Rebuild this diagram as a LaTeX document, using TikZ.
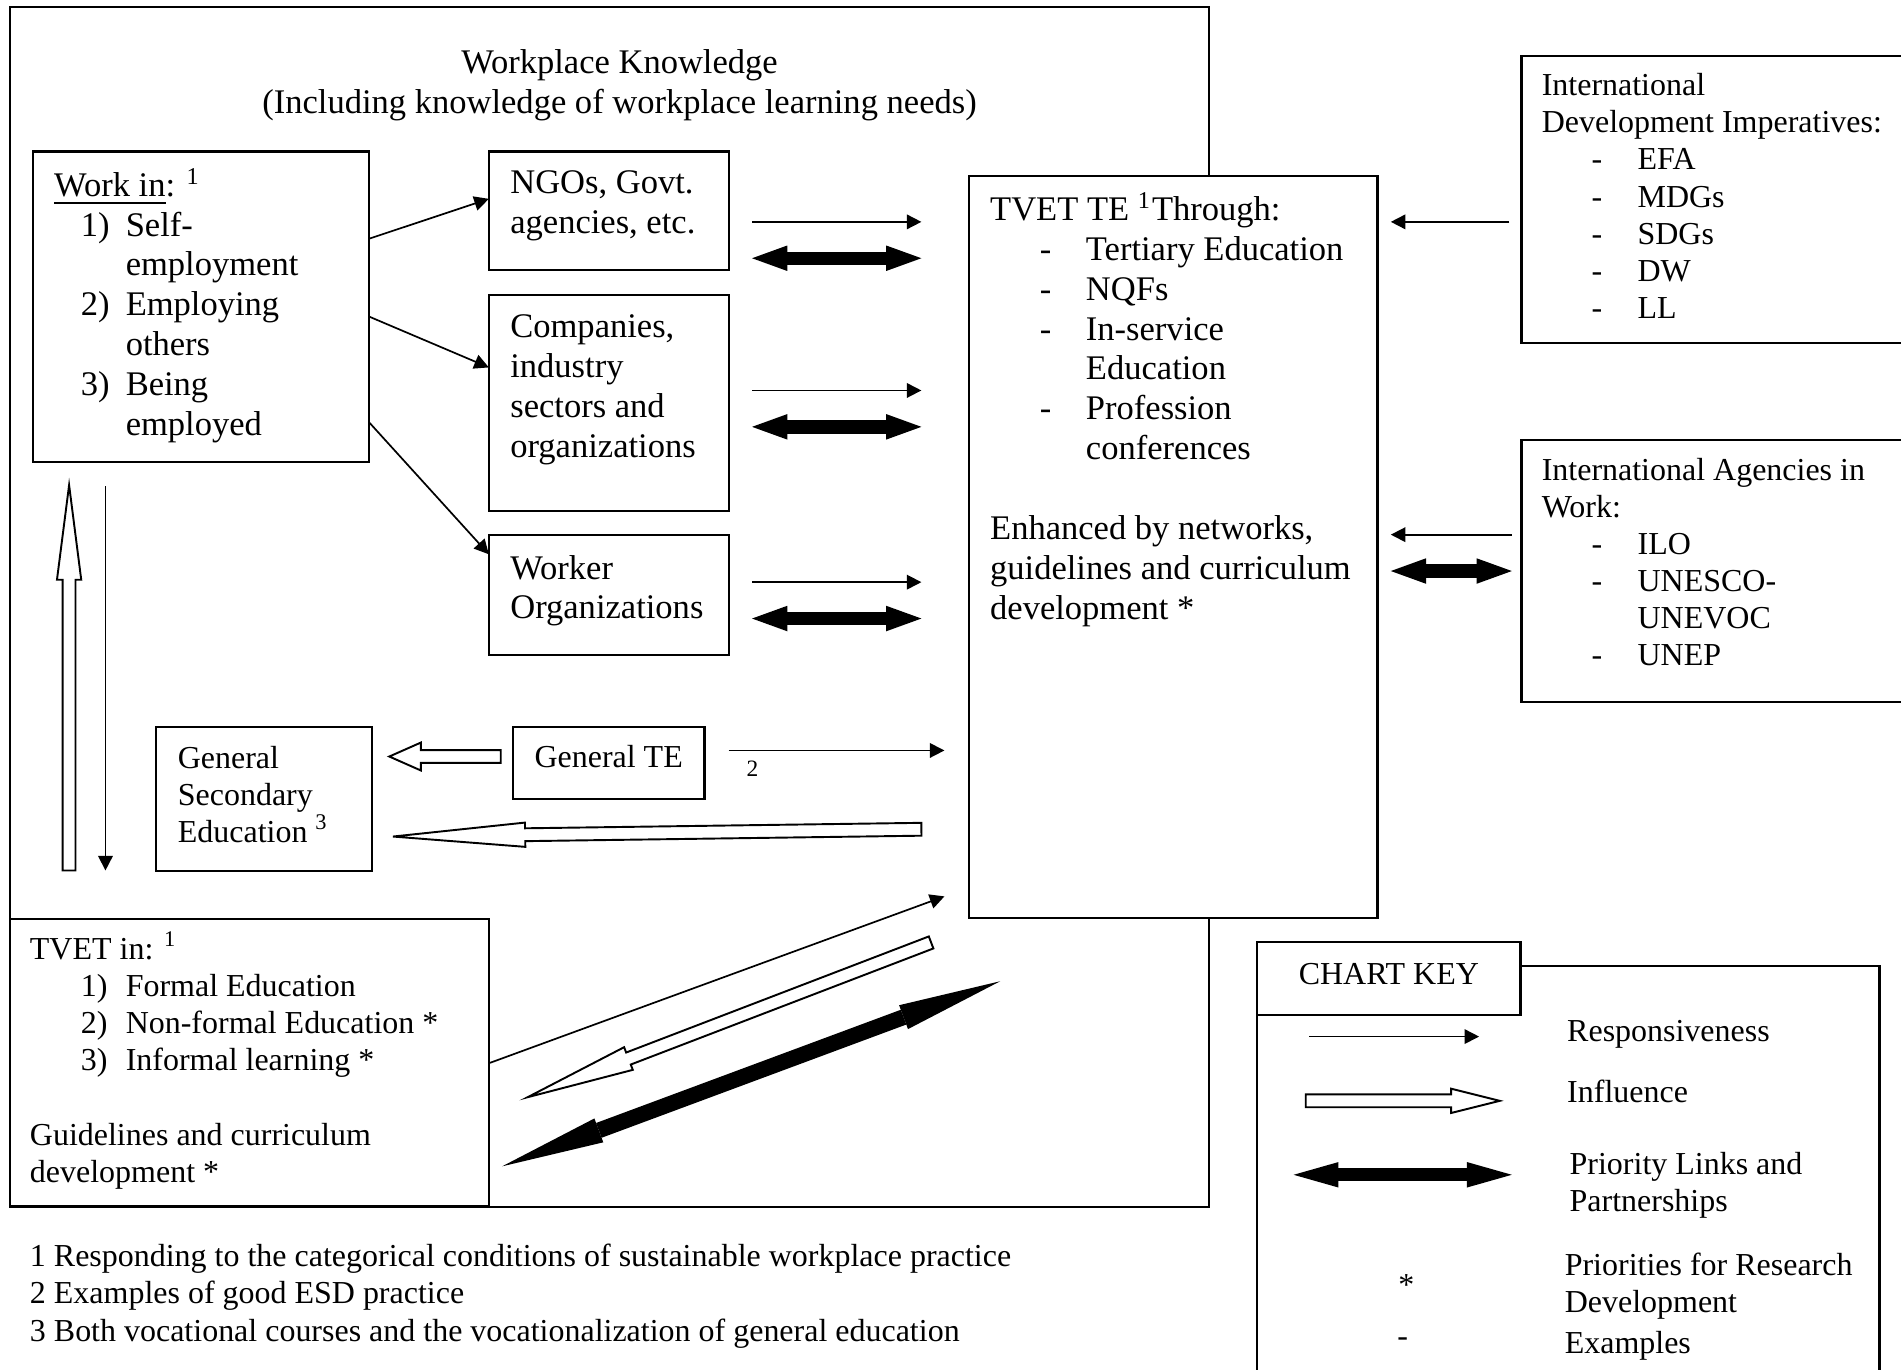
\documentclass[tikz,border=0pt]{standalone}
\usepackage{fontspec}
\setmainfont{Liberation Serif}
\usetikzlibrary{arrows.meta, positioning, calc}

\newcommand{\numitem}[3][0.22cm]{\hspace*{#1}\makebox[0.37cm][l]{#2}#3}
\newcommand{\dashitem}[1]{\hspace*{0.41cm}\makebox[0.38cm][l]{-}#1}
\newcommand{\dashcont}[1]{\hspace*{0.79cm}#1}
% open block arrow: [head half width] tail, tip, head length
\newcommand{\hollowarrow}[4][0.1cm]{%
  \coordinate (neck) at ($(#3)!#4!(#2)$);
  \draw[hollow] ($(#2)!0.053cm!90:(#3)$) -- ($(neck)!0.053cm!-90:(#2)$)
    -- ($(neck)!#1!-90:(#2)$) -- (#3) -- ($(neck)!#1!90:(#2)$)
    -- ($(neck)!0.053cm!90:(#2)$) -- ($(#2)!0.053cm!-90:(#3)$) -- cycle;}

\begin{document}
\begin{tikzpicture}[
    x=0.01cm, y=-0.01cm,
    box/.style={draw, line width=0.5pt, fill=white, inner sep=0pt, outer sep=0pt, anchor=north west},
    bigtext/.style={font=\fontsize{8.1}{9.35}\selectfont, align=left, inner sep=0pt, anchor=north west},
    smalltext/.style={font=\fontsize{7.5}{8.7}\selectfont, align=left, inner sep=0pt, anchor=north west},
    fnmark/.style={font=\fontsize{5.5}{6}\selectfont, inner sep=0pt},
    resp/.style={line width=0.4pt, -{Triangle[length=0.12cm,width=0.12cm]}},
    prio/.style={line width=0.11cm, {Triangle[length=#1,width=0.21cm,line width=0pt]}-{Triangle[length=#1,width=0.21cm,line width=0pt]}},
    prio/.default=0.29cm,
    hollow/.style={draw, line width=0.45pt, fill=white, line join=miter}
]
    \useasboundingbox (0,0) rectangle (1568,1130);
    \clip (0,0) rectangle (1568,1130);

    % workplace frame
    \node[box, minimum width=9.89cm, minimum height=9.89cm] (outer) at (8,6) {};
    \node[bigtext, anchor=north, align=center] (title) at (511,40) {Workplace Knowledge\\(Including knowledge of workplace learning needs)};

    \node[box, minimum width=2.77cm, minimum height=2.56cm] (work) at (27,125) {};
    \node[bigtext, below right=0.13cm and 0.17cm of work.north west] (worktxt) {\underline{Work in}: \textsuperscript{1}\\
        \numitem{1)}{Self-}\\ \hspace*{0.59cm}employment\\
        \numitem{2)}{Employing}\\ \hspace*{0.59cm}others\\
        \numitem{3)}{Being}\\ \hspace*{0.59cm}employed};

    \node[box, minimum width=1.98cm, minimum height=0.98cm, right=0.99cm of work.north east, anchor=north west] (ngo) {};
    \node[bigtext, below right=0.15cm and 0.17cm of ngo.north west] (ngotxt) {NGOs, Govt.\\agencies, etc.};
    \node[box, minimum width=1.98cm, minimum height=1.78cm, below=0.2cm of ngo] (comp) {};
    \node[bigtext, below right=0.16cm and 0.17cm of comp.north west] (comptxt) {Companies,\\industry\\sectors and\\organizations};
    \node[box, minimum width=1.98cm, minimum height=0.99cm, below=0.2cm of comp] (worker) {};
    \node[bigtext, below right=0.16cm and 0.17cm of worker.north west] (workertxt) {Worker\\Organizations};

    \node[box, minimum width=1.78cm, minimum height=1.18cm] (gensec) at (129,600) {};
    \node[smalltext, below right=0.15cm and 0.17cm of gensec.north west] (gensectxt) {General\\Secondary\\Education \textsuperscript{3}};
    \node[box, minimum width=1.58cm, minimum height=0.59cm, text depth=0.11cm, font=\fontsize{7.5}{8.7}\selectfont] (gte) at (423,600) {General TE};

    \node[box, minimum width=3.95cm, minimum height=2.37cm] (tvetin) at (8,758) {};
    \node[smalltext, below right=0.10cm and 0.16cm of tvetin.north west] (tvetintxt) {TVET in: \textsuperscript{1}\\
        \numitem[0.42cm]{1)}{Formal Education}\\
        \numitem[0.42cm]{2)}{Non-formal Education *}\\
        \numitem[0.42cm]{3)}{Informal learning *}\\[8.7pt]
        Guidelines and curriculum\\development *};

    \node[box, minimum width=3.37cm, minimum height=6.12cm] (tvette) at (799,145) {};
    \node[bigtext, below right=0.13cm and 0.17cm of tvette.north west] (tvettetxt) {TVET TE \textsuperscript{1}Through:\\
        \dashitem{Tertiary Education}\\
        \dashitem{NQFs}\\
        \dashitem{In-service}\\ \dashcont{Education}\\
        \dashitem{Profession}\\ \dashcont{conferences}\\[9.35pt]
        Enhanced by networks,\\guidelines and curriculum\\development *};

    % international boxes
    \node[box, minimum width=3.3cm, minimum height=2.37cm] (idev) at (1255,46) {};
    \node[smalltext, below right=0.14cm and 0.16cm of idev.north west] (idevtxt) {International\\Development Imperatives:\\
        \dashitem{EFA}\\ \dashitem{MDGs}\\ \dashitem{SDGs}\\ \dashitem{DW}\\ \dashitem{LL}};
    \node[box, minimum width=3.3cm, minimum height=2.16cm] (iag) at (1255,363) {};
    \node[smalltext, below right=0.14cm and 0.16cm of iag.north west] (iagtxt) {International Agencies in\\Work:\\
        \dashitem{ILO}\\ \dashitem{UNESCO-}\\ \dashcont{UNEVOC}\\ \dashitem{UNEP}};

    % chart key
    \node[box, minimum width=5.13cm, minimum height=3.6cm] (keybody) at (1037,797) {};
    \node[box, minimum width=2.17cm, minimum height=0.6cm, text depth=0.08cm, font=\fontsize{7.5}{8.7}\selectfont] (keyhead) at (1037,777) {CHART KEY};
    \node[smalltext, anchor=west] (lresp) at (1292,853) {Responsiveness};
    \node[smalltext, anchor=west] (linfl) at (1292,900) {Influence};
    \node[smalltext] (lprio) at (1294,950) {Priority Links and\\Partnerships};
    \node[smalltext, anchor=center] (star) at (1160,1060) {*};
    \node[smalltext] (lres) at (1290,1033) {Priorities for Research\\Development};
    \node[smalltext, anchor=center] (dash) at (1157,1107) {-};
    \node[smalltext, anchor=west] (lex) at (1290,1110) {Examples};

    \node[smalltext, font=\fontsize{7.5}{8.8}\selectfont] (notes) at (24,1025) {1 Responding to the categorical conditions of sustainable workplace practice\\
        2 Examples of good ESD practice\\
        3 Both vocational courses and the vocationalization of general education};

    % responsiveness
    \draw[resp] ($(work.north east)+(0,72)$) -- ($(ngo.north west)+(0,39)$);
    \draw[resp] ($(work.north east)+(0,136)$) -- ($(comp.north west)+(0,60)$);
    \draw[resp] ($(work.north east)+(0,223)$) -- ($(worker.north west)+(0,16)$);
    \draw[resp] ($(ngo.north east)+(19,58)$) -- ($(ngo.north east -| tvette.west)+(-39,58)$);
    \draw[resp] ($(comp.north east)+(19,79)$) -- ($(comp.north east -| tvette.west)+(-39,79)$);
    \draw[resp] ($(worker.north east)+(19,39)$) -- ($(worker.north east -| tvette.west)+(-39,39)$);
    \draw[resp] ($(idev.north west)+(-10,137)$) -- ($(idev.north west -| tvette.east)+(11,137)$);
    \draw[resp] ($(iag.north west)+(-8,78)$) -- ($(iag.north west -| tvette.east)+(11,78)$);
    \draw[resp] ($(gte.north east)+(20,19)$) -- node[pos=0.11, below=0.08cm, fnmark] {2} ($(gte.north east -| tvette.west)+(-20,19)$);
    \draw[resp] ($(work.south west)+(60,20)$) -- ($(tvetin.north west)+(79,-40)$);
    \draw[resp] ($(tvetin.north east)+(0,119)$) -- ($(tvette.south west)+(-20,-18)$);

    % priority links
    \draw[prio] ($(ngo.north east)+(19,88)$) -- ($(ngo.north east -| tvette.west)+(-39,88)$);
    \draw[prio] ($(comp.north east)+(19,109)$) -- ($(comp.north east -| tvette.west)+(-39,109)$);
    \draw[prio] ($(worker.north east)+(19,69)$) -- ($(worker.north east -| tvette.west)+(-39,69)$);
    \draw[prio] ($(iag.north west -| tvette.east)+(11,108)$) -- ($(iag.north west)+(-8,108)$);
    \draw[prio=0.85cm, line width=0.13cm] ($(tvetin.north east)+(11,204)$) -- ($(tvette.south west)+(26,52)$);

    % influence
    \coordinate (up-tail) at ($(tvetin.north west)+(49,-40)$);
    \coordinate (up-tip) at ($(work.south west)+(30,19)$);
    \hollowarrow{up-tail}{up-tip}{0.78cm}
    \coordinate (gte-tail) at ($(gte.north west)+(-10,24)$);
    \coordinate (gte-tip) at ($(gensec.north east)+(14,24)$);
    \hollowarrow[0.115cm]{gte-tail}{gte-tip}{0.26cm}
    \coordinate (te-tail) at ($(tvette.west |- gensec.north east)+(-39,84)$);
    \coordinate (te-tip) at ($(gensec.north east)+(17,90)$);
    \hollowarrow{te-tail}{te-tip}{1.09cm}
    \coordinate (diag-tail) at ($(tvette.south west)+(-31,20)$);
    \coordinate (diag-tip) at ($(tvetin.north east)+(32,147)$);
    \hollowarrow{diag-tail}{diag-tip}{0.89cm}

    % key samples
    \draw[resp] ($(keybody.north west)+(43,58)$) -- ($(keybody.north west)+(183,58)$);
    \coordinate (key-tail) at ($(keybody.north west)+(40,111)$);
    \coordinate (key-tip) at ($(keybody.north west)+(200,111)$);
    \hollowarrow{key-tail}{key-tip}{0.4cm}
    \draw[prio=0.37cm] ($(keybody.north west)+(30,172)$) -- ($(keybody.north west)+(210,172)$);
\end{tikzpicture}
\end{document}
